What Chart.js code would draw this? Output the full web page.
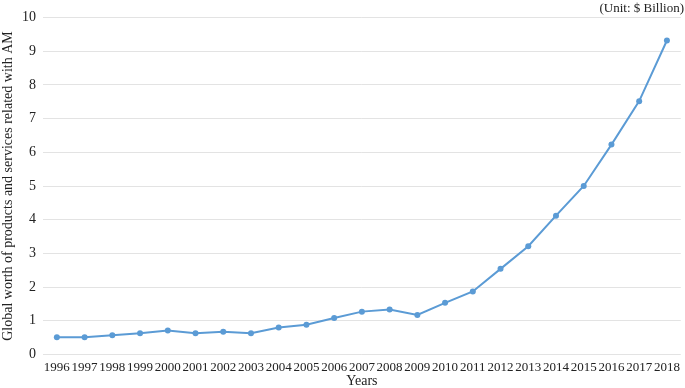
<!DOCTYPE html>
<html>
<head>
<meta charset="utf-8">
<script src="https://cdn.jsdelivr.net/npm/chart.js@4/dist/chart.umd.min.js"></script>
<style>
  html, body { margin: 0; padding: 0; background: #fff; }
  #wrap { width: 685px; height: 388px; position: relative; }
</style>
</head>
<body>
<div id="wrap"><canvas id="amChart"></canvas></div>
<script>
// data
const years = ['1996', '1997', '1998', '1999', '2000', '2001', '2002', '2003', '2004', '2005', '2006',
    '2007', '2008', '2009', '2010', '2011', '2012', '2013', '2014', '2015', '2016', '2017', '2018'];
const worth = [0.51, 0.51, 0.57, 0.63, 0.71, 0.63, 0.67, 0.63, 0.80, 0.88, 1.08,
    1.27, 1.33, 1.17, 1.53, 1.87, 2.54, 3.21, 4.12, 5.00, 6.23, 7.52, 9.32];
const yTicks = [0, 1, 2, 3, 4, 5, 6, 7, 8, 9, 10];

const serif = "'Liberation Serif', 'Times New Roman', serif";
const lineColor = '#5b9bd5';

new Chart(document.getElementById('amChart'), {
    type: 'line',
    data: {
        labels: years,
        datasets: [{
            data: worth,
            borderColor: lineColor,
            backgroundColor: lineColor,
            borderWidth: 2,
            pointRadius: 3,
            pointBorderWidth: 0,
            tension: 0
        }]
    },
    options: {
        responsive: true,
        maintainAspectRatio: false,
        animation: false,
        layout: { padding: { left: 1, right: 1, top: 0, bottom: 0 } },
        plugins: {
            legend: { display: false },
            tooltip: { enabled: false },
            title: {
                display: true,
                text: '(Unit: $ Billion)',
                align: 'end',
                color: '#222',
                font: { family: serif, size: 13, weight: 'normal' },
                padding: { top: 1, bottom: 1 }
            }
        },
        scales: {
            x: {
                offset: true,
                grid: { display: false, drawTicks: false },
                border: { display: false },
                ticks: {
                    autoSkip: false,
                    maxRotation: 0,
                    minRotation: 0,
                    color: '#222',
                    padding: 5,
                    font: { family: serif, size: 13 }
                },
                title: {
                    display: true,
                    text: 'Years',
                    color: '#222',
                    padding: { top: -6, bottom: 0 },
                    font: { family: serif, size: 14, lineHeight: 1 }
                }
            },
            y: {
                min: 0,
                max: 10,
                afterBuildTicks: function (axis) {
                    axis.ticks = yTicks.map(function (v) { return { value: v }; });
                },
                grid: { color: '#e3e3e3', lineWidth: 1, drawTicks: false },
                border: { display: false },
                ticks: {
                    color: '#222',
                    padding: 7,
                    font: { family: serif, size: 14 }
                },
                title: {
                    display: true,
                    text: 'Global worth of products and services related with AM',
                    color: '#222',
                    padding: { top: 0, bottom: 0 },
                    font: { family: serif, size: 14, lineHeight: 1 }
                }
            }
        }
    }
});
</script>
</body>
</html>
